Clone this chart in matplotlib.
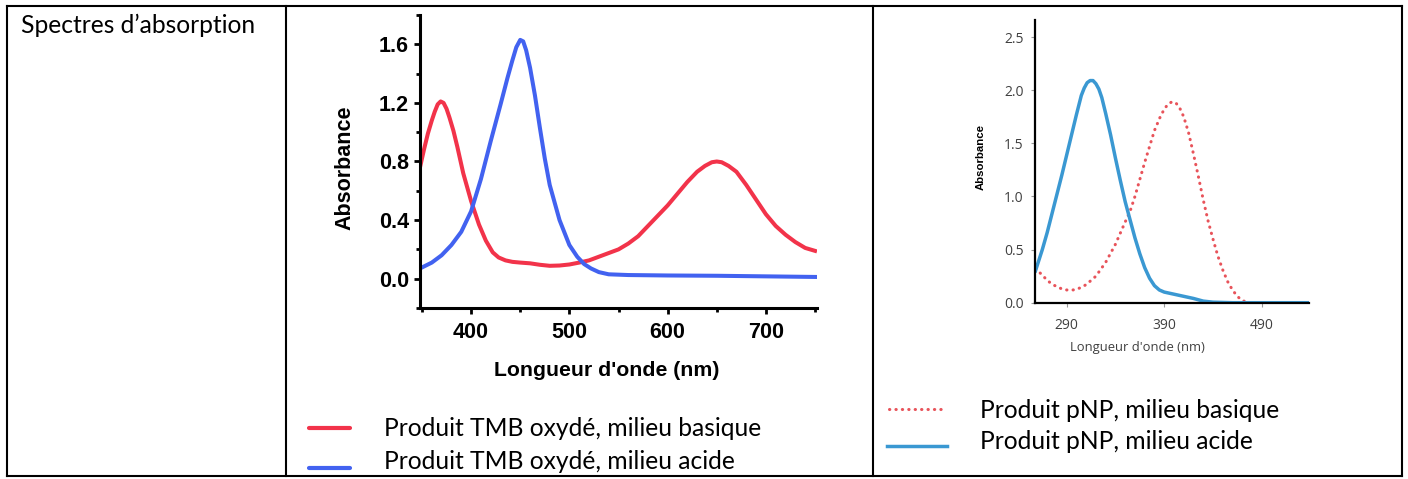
import matplotlib
matplotlib.use("Agg")
import matplotlib.pyplot as plt
from matplotlib.ticker import MultipleLocator, FormatStrFormatter

# TMB spectra (wavelength in nm, absorbance)
tmb_nm_basic = [348, 352, 356, 360, 363, 366, 369, 372, 375, 378, 382, 386, 392, 400, 408, 415, 422, 428,
                435, 442, 450, 460, 470, 480, 490, 500, 510, 520, 530, 540, 550, 560, 570, 580, 590, 600,
                610, 620, 630, 638, 645, 650, 655, 662, 670, 680, 690, 700, 710, 720, 730, 740, 750]
tmb_abs_basic = [0.76, 0.88, 0.99, 1.08, 1.14, 1.19, 1.21, 1.20, 1.16, 1.10, 1.01, 0.90, 0.72, 0.53, 0.37, 0.26, 0.18, 0.145,
                 0.125, 0.115, 0.11, 0.105, 0.095, 0.088, 0.09, 0.097, 0.11, 0.125, 0.15, 0.175, 0.20, 0.24, 0.29, 0.36, 0.43, 0.50,
                 0.58, 0.66, 0.73, 0.77, 0.795, 0.80, 0.795, 0.77, 0.73, 0.64, 0.54, 0.44, 0.36, 0.30, 0.25, 0.21, 0.19]

tmb_nm_acid = [348, 360, 370, 380, 390, 400, 410, 420, 430, 437, 442, 446, 450, 453, 456, 460, 465, 470,
               475, 480, 490, 500, 508, 515, 522, 530, 540, 560, 600, 650, 700, 750]
tmb_abs_acid = [0.07, 0.11, 0.16, 0.23, 0.32, 0.46, 0.68, 0.94, 1.19, 1.37, 1.49, 1.58, 1.63, 1.62, 1.56, 1.44, 1.25, 1.03,
                0.82, 0.64, 0.40, 0.23, 0.15, 0.10, 0.07, 0.045, 0.03, 0.025, 0.022, 0.02, 0.016, 0.012]

# pNP spectra
pnp_nm_basic = [258, 265, 270, 275, 280, 285, 290, 295, 300, 305, 310, 320, 330, 340, 350, 355, 360, 370, 380,
                386, 390, 394, 398, 402, 406, 410, 415, 420, 425, 430, 435, 440, 445, 450, 455, 460,
                465, 470, 477]
pnp_abs_basic = [0.32, 0.26, 0.21, 0.175, 0.15, 0.13, 0.12, 0.118, 0.125, 0.145, 0.17, 0.25, 0.38, 0.55, 0.76, 0.86, 1.0, 1.32, 1.62,
                 1.75, 1.82, 1.87, 1.89, 1.88, 1.83, 1.75, 1.60, 1.40, 1.19, 0.97, 0.77, 0.60, 0.44, 0.31, 0.20, 0.12,
                 0.06, 0.02, 0.0]

pnp_nm_acid = [258, 265, 270, 275, 280, 285, 290, 295, 300, 305, 308, 311, 314, 317, 320, 323, 326, 330, 335,
               340, 345, 350, 355, 360, 365, 370, 375, 380, 385, 390, 400, 410, 420, 430, 440, 460, 538]
pnp_abs_acid = [0.30, 0.50, 0.66, 0.84, 1.02, 1.20, 1.39, 1.58, 1.77, 1.95, 2.02, 2.07, 2.09, 2.09, 2.06, 2.01, 1.93, 1.78, 1.58,
                1.36, 1.15, 0.95, 0.78, 0.61, 0.46, 0.33, 0.23, 0.16, 0.12, 0.10, 0.08, 0.06, 0.04, 0.015, 0.005, 0.0, 0.0]

RED = '#f2334a'
BLUE = '#4262f0'
PNP_BLUE = '#3a98d2'
PNP_RED = '#e8535a'
DOTS = (0, (0.1, 2.0))
W, H = 1408, 479

fig = plt.figure(figsize=(W / 100, H / 100), dpi=100)

# background: table drawn in pixel coordinates
bg = fig.add_axes([0, 0, 1, 1])
bg.set_xlim(0, W)
bg.set_ylim(H, 0)
bg.axis('off')
lw_tab = 1.5
for x in [7, 286, 873, 1402]:
    bg.plot([x, x], [6, 476], color='black', lw=lw_tab, solid_capstyle='projecting')
bg.plot([7, 1402], [6, 6], color='black', lw=lw_tab)
bg.plot([7, 1402], [476, 476], color='black', lw=lw_tab)

calibri = ['Lato', 'DejaVu Sans']
fs_txt = 17.7
bg.text(21, 33, 'Spectres d\u2019absorption', fontsize=fs_txt, family=calibri, va='baseline', ha='left')

# legend of the TMB chart
bg.plot([309, 350], [428, 428], color=RED, lw=3, solid_capstyle='round')
bg.plot([309, 350], [467.5, 467.5], color=BLUE, lw=3, solid_capstyle='round')
bg.text(384, 436.5, 'Produit TMB oxydé, milieu basique', fontsize=fs_txt, family=calibri, va='baseline')
bg.text(384, 469, 'Produit TMB oxydé, milieu acide', fontsize=fs_txt, family=calibri, va='baseline')

# legend of the pNP chart
bg.plot([889, 942], [409, 409], color=PNP_RED, lw=2.2, linestyle=DOTS, dash_capstyle='round')
bg.plot([887, 947], [446, 446], color=PNP_BLUE, lw=2.5)
bg.text(980, 417.5, 'Produit pNP, milieu basique', fontsize=fs_txt, family=calibri, va='baseline')
bg.text(980, 449, 'Produit pNP, milieu acide', fontsize=fs_txt, family=calibri, va='baseline')


def px_axes(left, top, right, bottom):
    return fig.add_axes([left / W, 1 - bottom / H, (right - left) / W, (bottom - top) / H])


# TMB chart
ax1 = px_axes(420, 15, 817, 308)
ax1.patch.set_alpha(0)
ax1.plot(tmb_nm_basic, tmb_abs_basic, color=RED, lw=2.9, solid_joinstyle='round')
ax1.plot(tmb_nm_acid, tmb_abs_acid, color=BLUE, lw=2.9, solid_joinstyle='round')
ax1.set_xlim(348, 752)
ax1.set_ylim(-0.2, 1.8)
for s in ['top', 'right']:
    ax1.spines[s].set_visible(False)
for s in ['left', 'bottom']:
    ax1.spines[s].set_linewidth(2.2)
ax1.xaxis.set_major_locator(MultipleLocator(100))
ax1.xaxis.set_minor_locator(MultipleLocator(50))
ax1.yaxis.set_minor_locator(MultipleLocator(0.2))
ax1.set_yticks([0, 0.4, 0.8, 1.2, 1.6])
ax1.yaxis.set_major_formatter(FormatStrFormatter('%.1f'))
ax1.tick_params(which='major', direction='out', length=4, width=2, labelsize=15.5, pad=4)
ax1.tick_params(axis='x', which='major', pad=6)
ax1.tick_params(which='minor', direction='out', length=3, width=2)
for lab in ax1.get_xticklabels() + ax1.get_yticklabels():
    lab.set_fontweight('bold')
    lab.set_family('Liberation Sans')
ax1.set_xlabel("Longueur d'onde (nm)", fontsize=15.3, fontweight='bold', family='Liberation Sans', va='center')
ax1.set_ylabel('Absorbance', fontsize=15.5, fontweight='bold', family='Liberation Sans', va='center')
ax1.xaxis.set_label_coords((607 - 420) / 397, (308 - 370) / 293)
ax1.yaxis.set_label_coords((345 - 420) / 397, (308 - 168) / 293)

# pNP chart
ax2 = px_axes(1035, 20, 1309, 302.7)
ax2.patch.set_alpha(0)
ax2.plot(pnp_nm_basic, pnp_abs_basic, color=PNP_RED, lw=2.2, linestyle=DOTS, dash_capstyle='round')
ax2.plot(pnp_nm_acid, pnp_abs_acid, color=PNP_BLUE, lw=2.5, solid_joinstyle='round')
ax2.set_xlim(257.5, 538.5)
ax2.set_ylim(0, 2.66)
for s in ['top', 'right']:
    ax2.spines[s].set_visible(False)
for s in ['left', 'bottom']:
    ax2.spines[s].set_linewidth(1.6)
ax2.set_xticks([290, 390, 490])
ax2.set_yticks([0, 0.5, 1.0, 1.5, 2.0, 2.5])
ax2.yaxis.set_major_formatter(FormatStrFormatter('%.1f'))
ax2.tick_params(direction='out', length=3, width=0.8, color='#999999', labelsize=10,
                labelcolor='#404040', pad=5)
ax2.tick_params(axis='x', pad=8)
for lab in ax2.get_xticklabels() + ax2.get_yticklabels():
    lab.set_family('Open Sans')
ax2.set_xlabel("Longueur d'onde (nm)", fontsize=9.4, family='Open Sans', color='#404040', va='center')
ax2.set_ylabel('Absorbance', fontsize=8.2, fontweight='bold', family='Liberation Sans', va='center')
ax2.xaxis.set_label_coords((1137 - 1035) / 274, (302.7 - 348) / 282.7)
ax2.yaxis.set_label_coords((981 - 1035) / 274, (302.7 - 157) / 282.7)

fig.savefig('out.png', dpi=100)
